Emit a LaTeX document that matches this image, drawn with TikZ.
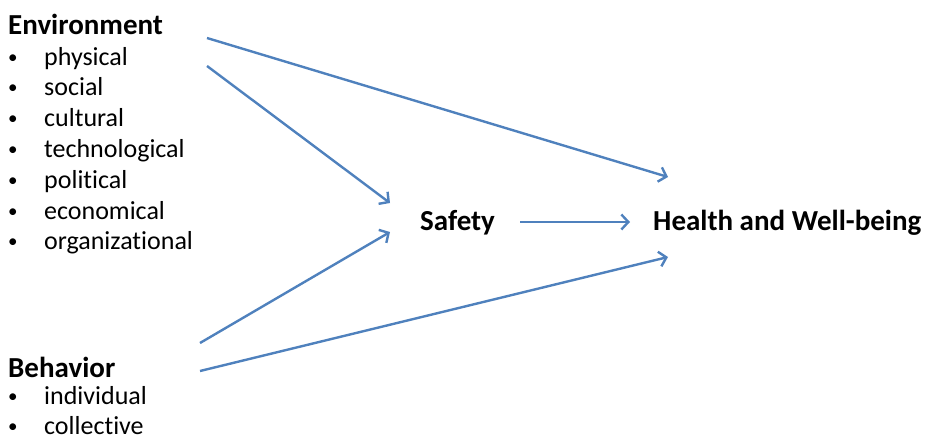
\documentclass[tikz,border=0pt]{standalone}
\usepackage{fontspec}
\setmainfont[Ligatures={NoCommon}]{Carlito}
\usetikzlibrary{arrows.meta}
\definecolor{linkblue}{RGB}{79,129,189}
\begin{document}
\begin{tikzpicture}[x=1pt,y=-1pt]
    \tikzstyle{heading}=[anchor=base west,inner sep=0pt,font=\fontsize{29}{34}\selectfont\bfseries]
    \tikzstyle{item}=[anchor=base west,inner sep=0pt,font=\fontsize{26}{31}\selectfont]
    \tikzstyle{bullet}=[anchor=base west,inner sep=0pt,font=\fontsize{19}{31}\selectfont]
    \tikzstyle{link}=[linkblue,line width=2.4pt,-{Straight Barb[length=7pt,width=15pt]}]

    \useasboundingbox (0,0) rectangle (928,442);

    \node[heading] at (8,34) (env) {Environment};
    \foreach \name/\txt [count=\i from 0] in {phys/physical,soc/social,cult/cultural,tech/technological,pol/political,econ/economical,org/organizational}
        \node[item] at (44,65+30.8*\i) (\name) {\txt};
    \foreach \i in {0,...,6}
        \node[bullet] at (8,63+30.8*\i) (envb\i) {•};

    \node[heading] at (8,377) (beh) {Behavior};
    \node[item] at (44,404) (ind) {individual};
    \node[item] at (44,434) (coll) {collective};
    \node[bullet] at (8,402) (behb0) {•};
    \node[bullet] at (8,432) (behb1) {•};

    \node[heading] at (420,230) (safety) {Safety};
    \node[heading] at (653,230) (health) {Health and Well-being};

    % free ends of the connectors
    \coordinate (env-out1) at (207,38);
    \coordinate (env-out2) at (207,66);
    \coordinate (beh-out1) at (200,343);
    \coordinate (beh-out2) at (200,371);
    \coordinate (safety-in1) at (390,203);
    \coordinate (safety-in2) at (390,232);
    \coordinate (safety-out) at (520,222);
    \coordinate (health-in1) at (668,177);
    \coordinate (health-in2) at (630,222);
    \coordinate (health-in3) at (668,257);

    \draw[link] (env-out1) -- (health-in1);
    \draw[link] (env-out2) -- (safety-in1);
    \draw[link] (beh-out1) -- (safety-in2);
    \draw[link] (beh-out2) -- (health-in3);
    \draw[link] (safety-out) -- (health-in2);
\end{tikzpicture}
\end{document}
